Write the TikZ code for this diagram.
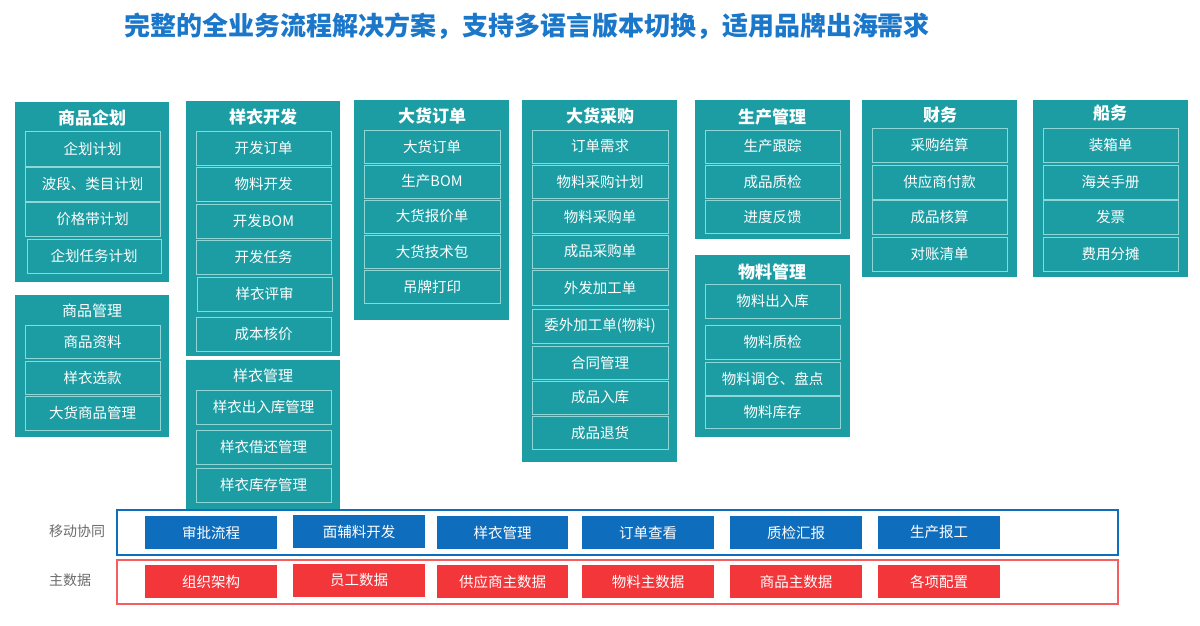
\documentclass[tikz,border=0pt]{standalone}
\usepackage{fontspec}
\setmainfont{Noto Sans CJK SC}
\definecolor{teal1}{HTML}{1C9DA3}
\definecolor{tealb}{HTML}{8FD6D6}
\definecolor{blu}{HTML}{0F6DBE}
\definecolor{redd}{HTML}{F2363A}
\definecolor{ttl}{HTML}{1B77C9}
\newcommand\bx[7][]{\node[#1,minimum width={(#5-#3)*1pt},minimum height={(#6-#4)*1pt}] (#2) at ({(#3+#5)/2},{(#4+#6)/2}) {#7};}
\begin{document}
\begin{tikzpicture}[x=1pt,y=-1pt,inner sep=0pt,outer sep=0pt,
 outer/.style={fill=teal1},
 hd/.style={text=white,font=\bfseries\fontsize{17}{19}\selectfont},
 hs/.style={text=white,font=\fontsize{15}{17}\selectfont},
 it/.style={draw=tealb,line width=0.9pt,text=white,font=\fontsize{14.5}{16}\selectfont},
 bb/.style={fill=blu,text=white,font=\fontsize{14.5}{16}\selectfont},
 rb/.style={fill=redd,text=white,font=\fontsize{14.5}{16}\selectfont},
 lb/.style={text=gray!85!black,font=\fontsize{14}{16}\selectfont}]
\useasboundingbox[fill=white] (0,0) rectangle (1200,625);
\node[text=ttl,font=\bfseries\fontsize{26}{30}\selectfont] (title) at (527,26) {完整的全业务流程解决方案，支持多语言版本切换，适用品牌出海需求};
% col1
\bx[outer]{c1}{15}{102}{169}{282}{}
\node[hd] (c1t) at (92,118) {商品企划};
\bx[it]{c1a}{25}{131}{160}{166}{企划计划}
\bx[it]{c1b}{25}{167}{160}{201}{波段、类目计划}
\bx[it]{c1c}{25}{202}{160}{236}{价格带计划}
\bx[it]{c1d}{27}{239}{161}{273}{企划任务计划}
\bx[outer]{c2}{15}{295}{169}{437}{}
\node[hs] (c2t) at (92,311) {商品管理};
\bx[it]{c2a}{25}{325}{160}{358}{商品资料}
\bx[it]{c2b}{25}{361}{160}{394}{样衣选款}
\bx[it]{c2c}{25}{396}{160}{430}{大货商品管理}
% col2
\bx[outer]{c3}{186}{101}{340}{356}{}
\node[hd] (c3t) at (263,117) {样衣开发};
\bx[it]{c3a}{196}{131}{331}{165}{开发订单}
\bx[it]{c3b}{196}{167}{331}{201}{物料开发}
\bx[it]{c3c}{196}{204}{331}{238}{开发BOM}
\bx[it]{c3d}{196}{240}{331}{274}{开发任务}
\bx[it]{c3e}{197}{277}{332}{311}{样衣评审}
\bx[it]{c3f}{196}{317}{331}{351}{成本核价}
\bx[outer]{c4}{186}{360}{340}{510}{}
\node[hs] (c4t) at (263,376) {样衣管理};
\bx[it]{c4a}{196}{390}{331}{424}{样衣出入库管理}
\bx[it]{c4b}{196}{430}{331}{464}{样衣借还管理}
\bx[it]{c4c}{196}{468}{331}{502}{样衣库存管理}
% col3
\bx[outer]{c5}{354}{100}{509}{320}{}
\node[hd] (c5t) at (432,116) {大货订单};
\bx[it]{c5a}{364}{130}{500}{163}{大货订单}
\bx[it]{c5b}{364}{165}{500}{198}{生产BOM}
\bx[it]{c5c}{364}{200}{500}{233}{大货报价单}
\bx[it]{c5d}{364}{235}{500}{268}{大货技术包}
\bx[it]{c5e}{364}{270}{500}{303}{吊牌打印}
% col4
\bx[outer]{c6}{522}{100}{677}{462}{}
\node[hd] (c6t) at (600,116) {大货采购};
\bx[it]{c6a}{532}{130}{668}{163}{订单需求}
\bx[it]{c6b}{532}{165}{668}{198}{物料采购计划}
\bx[it]{c6c}{532}{200}{668}{233}{物料采购单}
\bx[it]{c6d}{532}{235}{668}{268}{成品采购单}
\bx[it]{c6e}{532}{270}{668}{305}{外发加工单}
\bx[it]{c6f}{532}{309}{668}{343}{委外加工单(物料)}
\bx[it]{c6g}{532}{346}{668}{379}{合同管理}
\bx[it]{c6h}{532}{381}{668}{414}{成品入库}
\bx[it]{c6i}{532}{416}{668}{449}{成品退货}
% col5
\bx[outer]{c7}{695}{100}{850}{239}{}
\node[hd] (c7t) at (772,117) {生产管理};
\bx[it]{c7a}{705}{130}{840}{163}{生产跟踪}
\bx[it]{c7b}{705}{165}{840}{198}{成品质检}
\bx[it]{c7c}{705}{200}{840}{233}{进度反馈}
\bx[outer]{c8}{695}{255}{850}{437}{}
\node[hd] (c8t) at (772,272) {物料管理};
\bx[it]{c8a}{705}{284}{840}{318}{物料出入库}
\bx[it]{c8b}{705}{325}{840}{359}{物料质检}
\bx[it]{c8c}{705}{362}{840}{395}{物料调仓、盘点}
\bx[it]{c8d}{705}{396}{840}{428}{物料库存}
% col6
\bx[outer]{c9}{862}{100}{1017}{277}{}
\node[hd] (c9t) at (940,115) {财务};
\bx[it]{c9a}{872}{128}{1007}{162}{采购结算}
\bx[it]{c9b}{872}{165}{1007}{199}{供应商付款}
\bx[it]{c9c}{872}{200}{1007}{234}{成品核算}
\bx[it]{c9d}{872}{237}{1007}{271}{对账清单}
% col7
\bx[outer]{c10}{1033}{100}{1188}{277}{}
\node[hd] (c10t) at (1110,113) {船务};
\bx[it]{c10a}{1043}{128}{1178}{162}{装箱单}
\bx[it]{c10b}{1043}{165}{1178}{199}{海关手册}
\bx[it]{c10c}{1043}{200}{1178}{234}{发票}
\bx[it]{c10d}{1043}{237}{1178}{271}{费用分摊}
% bottom
\bx[draw=blu,line width=1.3pt]{mob}{117}{510}{1118}{555}{}
\bx[draw=redd!80,line width=1.3pt]{mst}{117}{560}{1118}{604}{}
\node[lb] (l1) at (77,531) {移动协同};
\node[lb] (l2) at (70,580) {主数据};
\bx[bb]{m1}{145}{516}{277}{549}{审批流程}
\bx[bb]{m2}{293}{515}{425}{548}{面辅料开发}
\bx[bb]{m3}{437}{516}{568}{549}{样衣管理}
\bx[bb]{m4}{582}{516}{714}{549}{订单查看}
\bx[bb]{m5}{730}{516}{862}{549}{质检汇报}
\bx[bb]{m6}{878}{516}{1000}{549}{生产报工}
\bx[rb]{r1}{145}{565}{277}{598}{组织架构}
\bx[rb]{r2}{293}{564}{425}{597}{员工数据}
\bx[rb]{r3}{437}{565}{568}{598}{供应商主数据}
\bx[rb]{r4}{582}{565}{714}{598}{物料主数据}
\bx[rb]{r5}{730}{565}{862}{598}{商品主数据}
\bx[rb]{r6}{878}{565}{1000}{598}{各项配置}
\end{tikzpicture}
\end{document}
